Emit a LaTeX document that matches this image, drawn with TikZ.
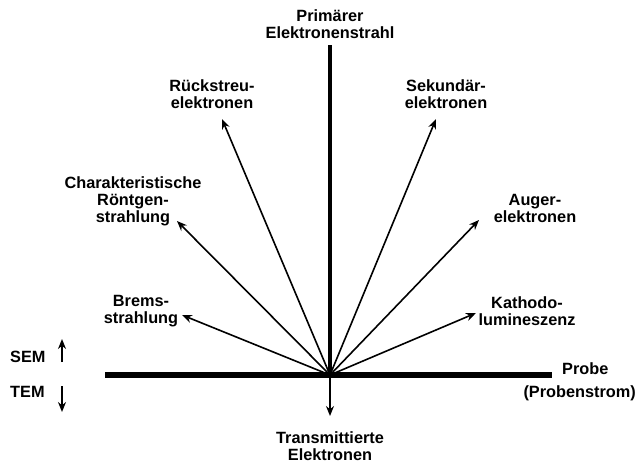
\documentclass[tikz,border=0pt]{standalone}
\usepackage{fontspec}
\setmainfont{Liberation Sans}
\usetikzlibrary{arrows.meta}
\begin{document}
\begin{tikzpicture}[x=1pt,y=-1pt,
  lbl/.style={font=\bfseries\fontsize{16.3}{17}\selectfont, align=center, inner sep=0pt},
  ray/.style={line width=1.6pt, -{Stealth[length=10pt,width=8pt]}}]
\useasboundingbox (0,0) rectangle (638,464);
\coordinate (c) at (330,375);
\coordinate (top) at (330,45);
\coordinate (left) at (105,375);
\coordinate (right) at (552,375);
\draw[line width=6pt] (left) -- (right);
\draw[line width=4pt] (c) -- (top);
% ray ends
\coordinate (rs) at (222,119);
\coordinate (se) at (436,119);
\coordinate (ch) at (177,221);
\coordinate (au) at (479,220);
\coordinate (br) at (182,315);
\coordinate (ka) at (476,313);
\coordinate (tr) at (330,416);
\foreach \e in {rs,se,ch,au,br,ka,tr} \draw[ray] (c) -- (\e);
% labels
\node[lbl] (lprim) at (330,24) {Primärer\\Elektronenstrahl};
\node[lbl] (lrs) at (212,94) {Rückstreu-\\elektronen};
\node[lbl] (lse) at (446,94) {Sekundär-\\elektronen};
\node[lbl] (lch) at (133,201) {Charakteristische\\Röntgen-\\strahlung};
\node[lbl] (lau) at (535,208) {Auger-\\elektronen};
\node[lbl] (lbr) at (141,311) {Brems-\\strahlung};
\node[lbl] (lka) at (527,311) {Kathodo-\\lumineszenz};
\node[lbl, anchor=west] (lprobe) at (562,369) {Probe};
\node[lbl, anchor=east] (lps) at (636,393) {(Probenstrom)};
\node[lbl] (ltr) at (330,446) {Transmittierte\\Elektronen};
\node[lbl, anchor=west] (lsem) at (10,357) {SEM};
\node[lbl, anchor=west] (ltem) at (10,392) {TEM};
\coordinate (s1) at (62,362);
\coordinate (s2) at (62,339);
\coordinate (t1) at (62,386);
\coordinate (t2) at (62,412);
\draw[ray] (s1) -- (s2);
\draw[ray] (t1) -- (t2);
\end{tikzpicture}
\end{document}
